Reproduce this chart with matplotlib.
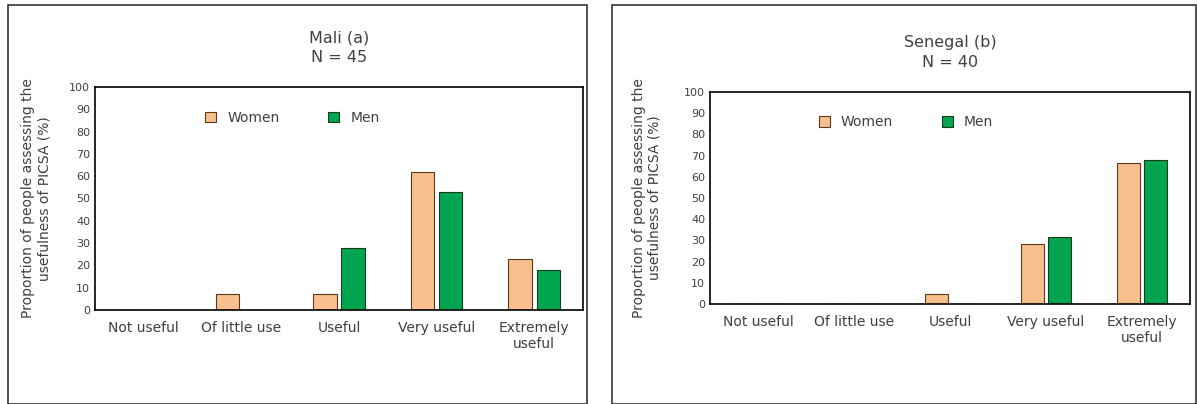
import matplotlib.pyplot as plt
from matplotlib.patches import Rectangle
import numpy as np

categories = ["Not useful", "Of little use", "Useful", "Very useful", "Extremely\nuseful"]
mali_women = [0, 7, 7, 62, 23]
mali_men = [0, 0, 28, 53, 18]
sen_women = [0, 0, 4.5, 28.5, 66.5]
sen_men = [0, 0, 0, 31.5, 68]

W, H = 1197, 404
fig = plt.figure(figsize=(W/100, H/100), dpi=100)
fig.patch.set_facecolor("white")
for x0, x1 in [(8, 587), (612, 1196)]:
    fig.patches.append(Rectangle((x0/W, 0), (x1-x0)/W, (H-5)/H, transform=fig.transFigure,
                                 fill=False, edgecolor="#333333", lw=1.2))

def panel(rect, title, women, men, ylab_x):
    l, t, r, b = rect
    ax = fig.add_axes([l/W, 1-b/H, (r-l)/W, (b-t)/H])
    x = np.arange(len(categories))
    w = 0.24
    ax.bar(x - 0.145, women, w, color="#F8C08F", edgecolor="#5a3a1a", lw=0.8, label="Women")
    ax.bar(x + 0.145, men, w, color="#00A550", edgecolor="#1a3a1a", lw=0.8, label="Men")
    ax.set_ylim(0, 100)
    ax.set_xlim(-0.5, 4.5)
    ax.set_yticks(range(0, 101, 10))
    ax.set_xticks(x)
    ax.set_xticklabels(categories, fontsize=10, color="#404040")
    ax.tick_params(axis="y", labelsize=8, colors="#404040", length=0)
    ax.tick_params(axis="x", length=0, pad=8)
    for s in ax.spines.values():
        s.set_color("black"); s.set_linewidth(1.2)
    ax.set_ylabel("Proportion of people assessing the\nusefulness of PICSA (%)", fontsize=10, color="#404040")
    ax.yaxis.set_label_coords(ylab_x, 0.5)
    ax.legend(loc="upper left", bbox_to_anchor=(0.2, 0.95), ncol=2, frameon=False,
              fontsize=10, handlelength=0.8, handleheight=0.8, columnspacing=3.5, labelcolor="#404040")
    ax.set_title(title, fontsize=11.5, color="#404040", pad=18, linespacing=1.4)
    return ax

panel((95, 87, 583, 310), "Mali (a)\nN = 45", mali_women, mali_men, -0.09)
panel((710, 92, 1190, 304), "Senegal (b)\nN = 40", sen_women, sen_men, -0.1)
fig.savefig("out.png", dpi=100)
